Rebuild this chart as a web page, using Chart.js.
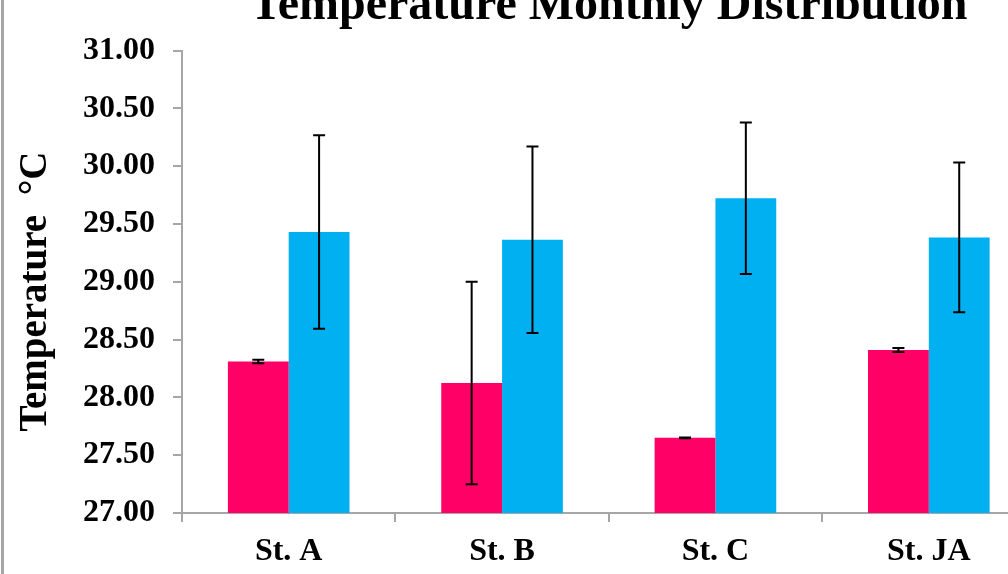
<!DOCTYPE html>
<html>
<head>
<meta charset="utf-8">
<script src="https://cdn.jsdelivr.net/npm/chart.js@4.4.1/dist/chart.umd.min.js"></script>
<style>
  html, body { margin: 0; padding: 0; background: #fff; overflow: hidden; width: 1008px; height: 574px; }
  #wrap { position: absolute; left: 0; top: -22px; }
  #frame { position: absolute; left: 1px; top: 0; width: 3px; height: 574px; background: #a6a6a6; }
</style>
</head>
<body>
<div id="wrap"><canvas id="c" width="1040" height="596"></canvas></div>
<div id="frame"></div>
<script>
const categories = ["St. A", "St. B", "St. C", "St. JA"];
const pinkValues = [28.31, 28.125, 27.65, 28.41];
const pinkErrors = [0.015, 0.876, 0.004, 0.017];
const blueValues = [29.43, 29.364, 29.723, 29.384];
const blueErrors = [0.837, 0.806, 0.656, 0.648];
const yMin = 27.0, yMax = 31.0, yStep = 0.5;
const titleText = "Temperature Monthly Distribution";
const yTitleText = "Temperature  \u00B0C  ";

const errorBars = {
  id: 'errorBars',
  afterDatasetsDraw(chart) {
    const ctx = chart.ctx;
    const y = chart.scales.y;
    chart.data.datasets.forEach((ds, di) => {
      const meta = chart.getDatasetMeta(di);
      meta.data.forEach((bar, i) => {
        const v = ds.data[i], e = ds.errors[i];
        const yt = y.getPixelForValue(v + e);
        const yb = y.getPixelForValue(v - e);
        const x = bar.x;
        ctx.save();
        ctx.strokeStyle = '#000';
        ctx.lineWidth = 2;
        ctx.beginPath();
        ctx.moveTo(x, yt); ctx.lineTo(x, yb);
        ctx.moveTo(x - 6, yt); ctx.lineTo(x + 6, yt);
        ctx.moveTo(x - 6, yb); ctx.lineTo(x + 6, yb);
        ctx.stroke();
        ctx.restore();
      });
    });
  }
};

const font = "'Liberation Serif', 'Times New Roman', serif";
const axisColor = '#a6a6a6';

new Chart(document.getElementById('c'), {
  type: 'bar',
  data: {
    labels: categories,
    datasets: [
      { data: pinkValues, errors: pinkErrors, backgroundColor: '#FF0066', borderWidth: 0 },
      { data: blueValues, errors: blueErrors, backgroundColor: '#00B0F0', borderWidth: 0 }
    ]
  },
  options: {
    responsive: false,
    animation: false,
    devicePixelRatio: 1,
    layout: { padding: { left: 0, right: 4.5, top: 0, bottom: 0 } },
    datasets: { bar: { categoryPercentage: 0.57, barPercentage: 1.0 } },
    plugins: {
      legend: { display: false },
      tooltip: { enabled: false },
      title: {
        display: true,
        text: titleText,
        fullSize: false,
        color: '#000',
        font: { family: font, size: 48, weight: 'bold' },
        padding: { top: 0, bottom: 15 }
      }
    },
    scales: {
      x: {
        offset: true,
        grid: { display: true, drawOnChartArea: false, drawTicks: true, tickLength: 9, color: axisColor, lineWidth: 2, offset: true },
        border: { display: true, color: axisColor, width: 2 },
        ticks: { color: '#000', font: { family: font, size: 32, weight: 'bold' }, padding: 11, maxRotation: 0 },
        afterFit(scale) { scale.height = 61; }
      },
      y: {
        min: yMin, max: yMax,
        grid: { display: true, drawOnChartArea: false, drawTicks: true, tickLength: 9, color: axisColor, lineWidth: 2 },
        border: { display: true, color: axisColor, width: 2 },
        ticks: {
          stepSize: yStep,
          color: '#000',
          font: { family: font, size: 32, weight: 'bold' },
          padding: 18,
          callback: (v) => Number(v).toFixed(2)
        },
        title: {
          display: true,
          text: yTitleText,
          color: '#000',
          font: { family: font, size: 39, weight: 'bold' },
          padding: { top: 13, bottom: 0 }
        },
        afterFit(scale) { scale.width = 182; }
      }
    }
  },
  plugins: [errorBars]
});
</script>
</body>
</html>
